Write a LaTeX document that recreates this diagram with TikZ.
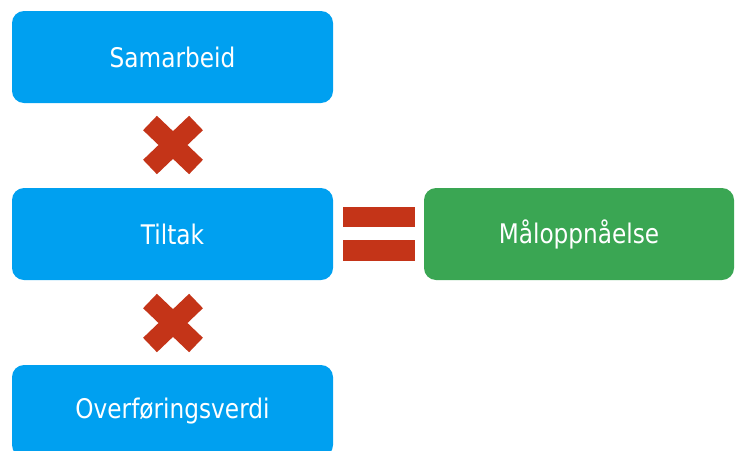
\documentclass[tikz,border=0pt]{standalone}
\usepackage{fontspec}
\setmainfont{DejaVu Sans}[FakeStretch=0.86]
\definecolor{boxblue}{RGB}{0,160,240}
\definecolor{boxgreen}{RGB}{58,166,83}
\definecolor{signred}{RGB}{196,52,24}
\tikzset{
  factor/.style={fill=boxblue, text=white, rounded corners=12pt, inner sep=0pt,
    minimum width=321pt, minimum height=92pt, font=\fontsize{27}{32}\selectfont},
  result/.style={factor, fill=boxgreen, minimum width=310pt},
  timesign/.style={draw=signred, line width=20pt},
}
\begin{document}
\begin{tikzpicture}[x=1pt, y=-1pt]
        % page size, the last box runs off the bottom edge
        \clip (0,0) rectangle (735,450);
        % the three factors in one column
        \node[factor] (samarbeid) at (172.5,57) {Samarbeid};
        \node[factor] (tiltak) at (172.5,234) {Tiltak};
        \node[factor] (overforing) at (172.5,411) {Overføringsverdi};
        % the result to the right
        \node[result] (maal) at (579,234) {Måloppnåelse};
        % multiplication signs between the factors
        \foreach \y in {145,323}
        {
          \draw[timesign] (173-23,\y-22) -- (173+23,\y+22);
          \draw[timesign] (173-23,\y+22) -- (173+23,\y-22);
        }
        % equal sign
        \fill[signred] (343,207) rectangle (415,227);
        \fill[signred] (343,240) rectangle (415,261);
\end{tikzpicture}
\end{document}
